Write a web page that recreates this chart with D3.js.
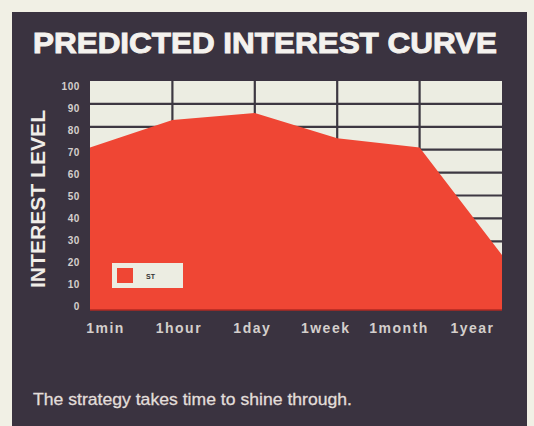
<!DOCTYPE html>
<html>
<head>
<meta charset="utf-8">
<script src="https://cdn.jsdelivr.net/npm/d3@7"></script>
<style>
  html, body { margin: 0; padding: 0; background: #f1f0e5; }
  svg { display: block; }
</style>
</head>
<body>
<svg id="chart" width="534" height="426"></svg>
<script>
// Time horizons along the bottom axis
const periods = ["1min", "1hour", "1day", "1week", "1month", "1year"];
// Interest level for the strategy at each horizon
const interest = [71, 83, 86, 75, 71, 24];
// Y tick values
const yTicks = [0, 10, 20, 30, 40, 50, 60, 70, 80, 90, 100];
const seriesName = "ST";
const title = "PREDICTED INTEREST CURVE";
const yTitle = "INTEREST LEVEL";
const caption = "The strategy takes time to shine through.";

const svg = d3.select("#chart");
const W = 534, H = 426;
const plot = { left: 90, right: 502, top: 81, bottom: 310 };

const colors = {
  page: "#f1f0e5",
  panel: "#3a3340",
  plotBg: "#ecede2",
  grid: "#3d3842",
  red: "#ef4634",
  light: "#e4e0dc",
  tick: "#d4cfcc"
};

// Dark backing panel
svg.append("rect")
  .attr("x", 12).attr("y", 12).attr("width", 515).attr("height", H - 12)
  .attr("fill", colors.panel);

// Title (stroked slightly for a heavier face)
svg.append("text")
  .attr("x", 33).attr("y", 53)
  .attr("textLength", 464).attr("lengthAdjust", "spacingAndGlyphs")
  .attr("font-family", "Liberation Sans, Arial, sans-serif")
  .attr("font-weight", 700).attr("font-size", 30)
  .attr("fill", "#f4f2ee")
  .attr("stroke", "#f4f2ee").attr("stroke-width", 1)
  .text(title);

// Scales
const x = d3.scalePoint().domain(periods).range([plot.left, plot.right]);
const y = d3.scaleLinear().domain([0, 100]).range([plot.bottom, plot.top]);
const xLabel = d3.scalePoint().domain(periods).range([105, 472]);
const yLabel = d3.scaleLinear().domain([0, 100]).range([306, 86]);

// Plot background
svg.append("rect")
  .attr("x", plot.left).attr("y", plot.top)
  .attr("width", plot.right - plot.left).attr("height", plot.bottom - plot.top)
  .attr("fill", colors.plotBg);

// Grid lines
const grid = svg.append("g").attr("stroke", colors.grid).attr("stroke-width", 2.2);
grid.selectAll("line.h")
  .data(yTicks.filter(d => d > 0 && d < 100))
  .join("line")
  .attr("class", "h")
  .attr("x1", plot.left).attr("x2", plot.right)
  .attr("y1", d => y(d)).attr("y2", d => y(d));
grid.selectAll("line.v")
  .data(periods.slice(1, -1))
  .join("line")
  .attr("class", "v")
  .attr("x1", d => x(d)).attr("x2", d => x(d))
  .attr("y1", plot.top).attr("y2", plot.bottom);

// Interest area
const area = d3.area()
  .x((d, i) => x(periods[i]))
  .y0(y(0))
  .y1(d => y(d));
svg.append("path")
  .datum(interest)
  .attr("d", area)
  .attr("fill", colors.red);

// Bottom edge of the plot
svg.append("line")
  .attr("x1", plot.left).attr("x2", plot.right)
  .attr("y1", plot.bottom).attr("y2", plot.bottom)
  .attr("stroke", "#b02a22").attr("stroke-width", 1.5);

// Y tick labels
const yAxis = d3.axisLeft(yLabel).tickValues(yTicks).tickSize(0).tickPadding(0);
const gy = svg.append("g").attr("transform", "translate(80,0)").call(yAxis);
gy.select(".domain").remove();
gy.selectAll("text")
  .attr("font-family", "Liberation Sans, Arial, sans-serif")
  .attr("font-weight", 700).attr("font-size", 10)
  .attr("letter-spacing", 0.6)
  .attr("fill", colors.tick);

// X tick labels
const xAxis = d3.axisBottom(xLabel).tickSize(0).tickPadding(0);
const gx = svg.append("g").attr("transform", "translate(0,323)").call(xAxis);
gx.select(".domain").remove();
gx.selectAll("text")
  .attr("font-family", "Liberation Sans, Arial, sans-serif")
  .attr("font-weight", 700).attr("font-size", 14)
  .attr("letter-spacing", 1.5)
  .attr("fill", colors.tick);

// Y axis title
svg.append("text")
  .attr("transform", "translate(45,199) rotate(-90)")
  .attr("text-anchor", "middle")
  .attr("textLength", 178).attr("lengthAdjust", "spacingAndGlyphs")
  .attr("font-family", "Liberation Sans, Arial, sans-serif")
  .attr("font-weight", 700).attr("font-size", 20)
  .attr("fill", "#f0ede8")
  .text(yTitle);

// Legend
const legend = svg.append("g").attr("transform", "translate(112,263)");
legend.append("rect")
  .attr("width", 71).attr("height", 25)
  .attr("fill", colors.plotBg);
legend.append("rect")
  .attr("x", 5).attr("y", 5).attr("width", 16).attr("height", 15)
  .attr("fill", colors.red);
legend.append("text")
  .attr("x", 34).attr("y", 16)
  .attr("font-family", "Liberation Sans, Arial, sans-serif")
  .attr("font-weight", 700).attr("font-size", 7)
  .attr("fill", "#333")
  .text(seriesName);

// Caption
svg.append("text")
  .attr("x", 33).attr("y", 405)
  .attr("textLength", 319).attr("lengthAdjust", "spacingAndGlyphs")
  .attr("font-family", "Liberation Sans, Arial, sans-serif")
  .attr("font-size", 17)
  .attr("fill", "#e2deda")
  .attr("stroke", "#e2deda").attr("stroke-width", 0.3)
  .text(caption);
</script>
</body>
</html>
